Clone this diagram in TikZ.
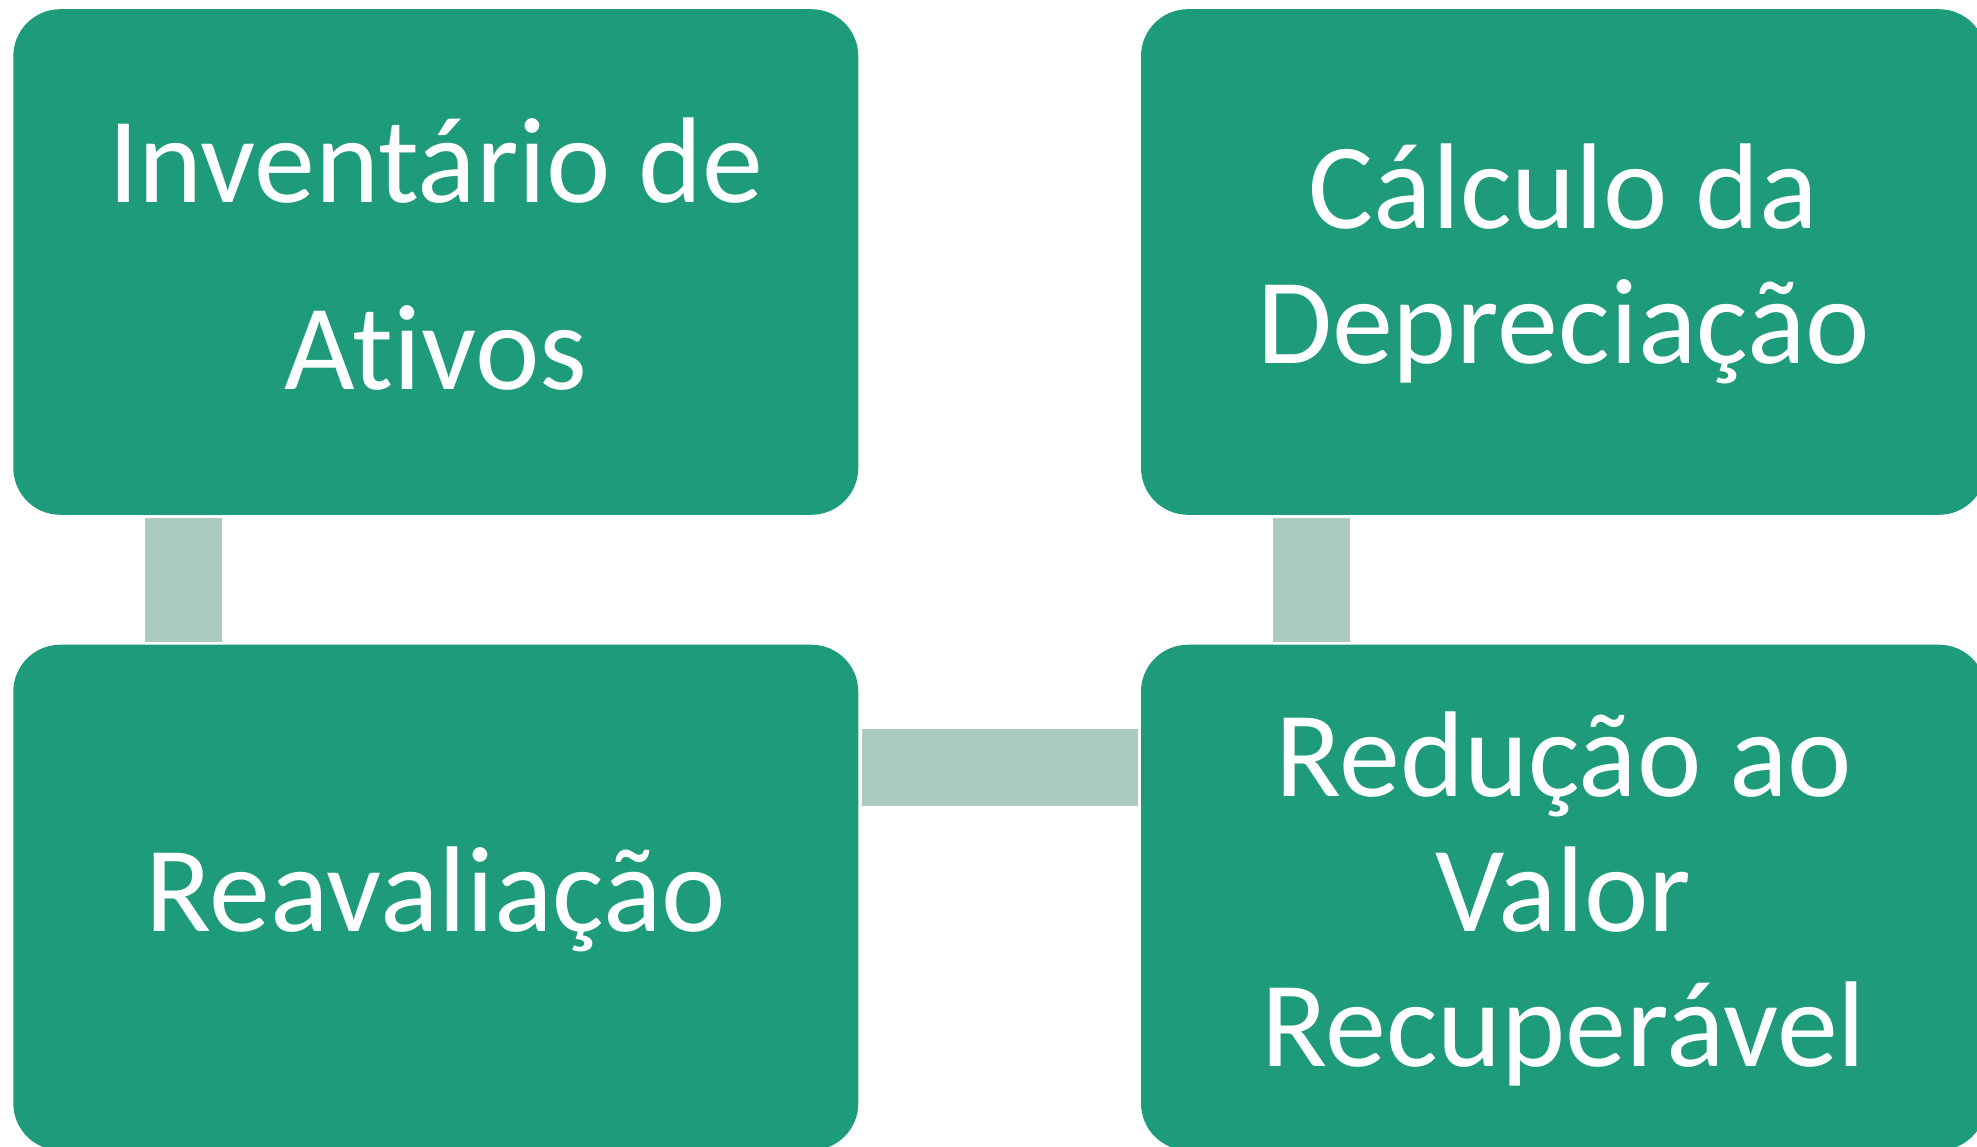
\documentclass[tikz,border=0pt]{standalone}
\usepackage{fontspec}
\setmainfont{Carlito}[Ligatures={NoCommon}]
\usetikzlibrary{calc}
\definecolor{boxgreen}{RGB}{30,155,122}
\definecolor{connlight}{RGB}{170,203,189}
\newcommand{\topstrut}{\rule{0pt}{108pt}}
\newcommand{\botstrut}{\rule[-40pt]{0pt}{40pt}}
\tikzset{
  box/.style={fill=boxgreen, draw=none, rounded corners=47pt,
    minimum width=845pt, minimum height=505.6pt, inner sep=0pt,
    text=white, align=center, font=\fontsize{122}{135}\selectfont},
  conn/.style={draw=connlight, line width=77pt, line cap=butt},
}
\begin{document}
\begin{tikzpicture}[x=1pt,y=-1pt]
\useasboundingbox (0,0) rectangle (1977,1147);
\node[box, font=\fontsize{122}{187}\selectfont] (b1) at (435.8,262) {\topstrut Inventário de\\Ativos\botstrut};
\node[box] (b2) at (1563.5,262) {\topstrut Cálculo da\\Depreciação\botstrut};
\node[box] (b3) at (435.8,897.5) {\topstrut Reavaliação\botstrut};
\node[box] (b4) at (1563.5,897.5) {\topstrut Redução ao\\Valor\\Recuperável\botstrut};
\draw[conn] ([xshift=170.2pt,yshift=-3pt]b1.south west) -- ([xshift=170.2pt,yshift=3pt]b3.north west);
\draw[conn] ([xshift=170.2pt,yshift=-3pt]b2.south west) -- ([xshift=170.2pt,yshift=3pt]b4.north west);
\draw[conn] ([xshift=3pt,yshift=-122.9pt]b3.north east) -- ([xshift=-3pt,yshift=-122.9pt]b4.north west);
\end{tikzpicture}
\end{document}
